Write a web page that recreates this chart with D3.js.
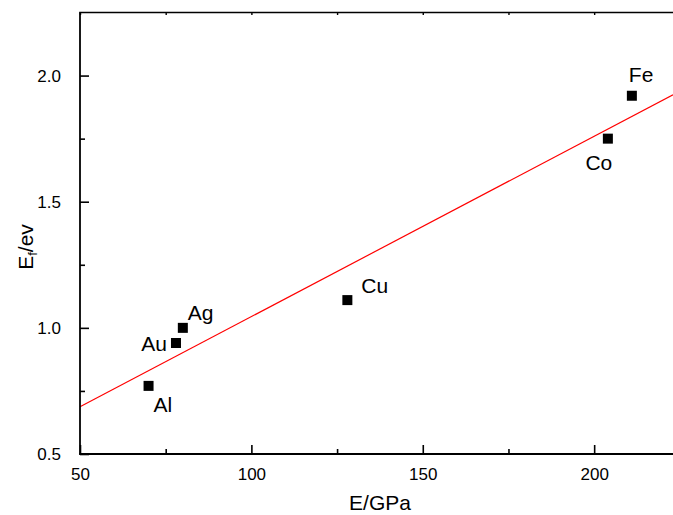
<!DOCTYPE html>
<html><head><meta charset="utf-8">
<script src="https://cdn.jsdelivr.net/npm/d3@7"></script>
<style>body{margin:0;background:#fff}svg{display:block}text{font-family:"Liberation Sans",Arial,sans-serif;fill:#000}</style>
</head><body><svg id="c" width="673" height="515"></svg>
<script>
const metals = ["Al","Au","Ag","Cu","Co","Fe"];
const modulus = [70,78,80,128,204,211];
const formation = [0.77,0.94,1.00,1.11,1.75,1.92];
const xMajor = [50,100,150,200];
const xMinor = [75,125,175];
const yMajor = [0.5,1.0,1.5,2.0];
const yMinor = [0.75,1.25,1.75];
// label offsets (px) relative to marker, anchor
const labelPos = {Al:[5,26,"start"],Au:[-9,8,"end"],Ag:[5,-8,"start"],Cu:[14,-7,"start"],Co:[-9,31,"middle"],Fe:[-3,-14,"start"]};

const svg = d3.select("#c");
const x = d3.scaleLinear().domain([50,223]).range([80,673]);
const y = d3.scaleLinear().domain([0.5,2.25]).range([454,12.5]);

// least squares fit
const n = modulus.length;
const mx = d3.mean(modulus), my = d3.mean(formation);
let sxy=0,sxx=0;
for(let i=0;i<n;i++){sxy+=(modulus[i]-mx)*(formation[i]-my);sxx+=(modulus[i]-mx)**2;}
const slope=sxy/sxx, icpt=my-slope*mx;
const fx=x.domain();
svg.append("line").attr("x1",x(fx[0])).attr("y1",y(icpt+slope*fx[0]))
  .attr("x2",x(fx[1])).attr("y2",y(icpt+slope*fx[1]))
  .attr("stroke","#ff0000").attr("stroke-width",1.2);

// axes
const g = svg.append("g");
// bottom
g.append("g").attr("transform","translate(0,454)")
 .call(d3.axisBottom(x).tickValues(xMajor).tickSize(-9).tickPadding(14).tickFormat(d3.format("d")))
 .call(s=>{s.select(".domain").remove();s.selectAll("line").attr("stroke-width",1.6);s.selectAll("text").attr("font-size",17).attr("font-family","Liberation Sans, Arial").attr("fill","#000");});
g.append("g").attr("transform","translate(0,454)")
 .call(d3.axisBottom(x).tickValues(xMinor).tickSize(-5).tickFormat(""))
 .call(s=>{s.select(".domain").remove();s.selectAll("line").attr("stroke-width",1.6);});
// top small ticks
g.append("g").attr("transform","translate(0,12.5)")
 .call(d3.axisTop(x).tickValues(xMajor.concat(xMinor)).tickSize(-2.5).tickFormat(""))
 .call(s=>{s.select(".domain").remove();s.selectAll("line").attr("stroke-width",1.4);});
// left
g.append("g").attr("transform","translate(80,0)")
 .call(d3.axisLeft(y).tickValues(yMajor).tickSize(-9).tickPadding(19).tickFormat(d3.format(".1f")))
 .call(s=>{s.select(".domain").remove();s.selectAll("line").attr("stroke-width",1.6);s.selectAll("text").attr("font-size",17).attr("font-family","Liberation Sans, Arial").attr("fill","#000");});
g.append("g").attr("transform","translate(80,0)")
 .call(d3.axisLeft(y).tickValues(yMinor).tickSize(-5).tickFormat(""))
 .call(s=>{s.select(".domain").remove();s.selectAll("line").attr("stroke-width",1.6);});
// frame lines
svg.append("line").attr("x1",80).attr("x2",80).attr("y1",12.5).attr("y2",454.8).attr("stroke","#000").attr("stroke-width",1.8);
svg.append("line").attr("x1",79.2).attr("x2",673).attr("y1",454).attr("y2",454).attr("stroke","#000").attr("stroke-width",1.8);
svg.append("line").attr("x1",79.2).attr("x2",673).attr("y1",12.5).attr("y2",12.5).attr("stroke","#000").attr("stroke-width",1.6);

// points
const pts = metals.map((m,i)=>({m,x:modulus[i],y:formation[i]}));
svg.selectAll("rect.pt").data(pts).enter().append("rect").attr("class","pt")
 .attr("x",d=>x(d.x)-5).attr("y",d=>y(d.y)-5).attr("width",10).attr("height",10).attr("fill","#000");
svg.selectAll("text.lbl").data(pts).enter().append("text").attr("class","lbl")
 .attr("x",d=>x(d.x)+labelPos[d.m][0]).attr("y",d=>y(d.y)+labelPos[d.m][1])
 .attr("text-anchor",d=>labelPos[d.m][2]).attr("font-size",21).text(d=>d.m);

// axis titles
svg.append("text").attr("x",380).attr("y",510).attr("text-anchor","middle").attr("font-size",21).text("E/GPa");
const yl = svg.append("text").attr("transform","translate(33,247) rotate(-90)").attr("text-anchor","middle").attr("font-size",21);
yl.append("tspan").text("E");
yl.append("tspan").attr("font-size",13).attr("dy",4).text("f");
yl.append("tspan").attr("dy",-4).text("/ev");
</script></body></html>
